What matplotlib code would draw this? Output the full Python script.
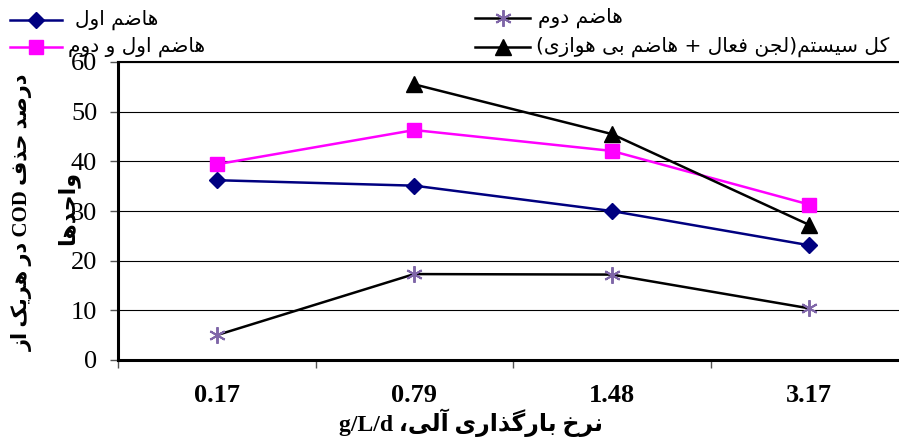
import matplotlib
matplotlib.use("Agg")
import matplotlib.pyplot as plt
from matplotlib.lines import Line2D

# data
loading_rates = ["0.17", "0.79", "1.48", "3.17"]
digester_1 = [36.2, 35.1, 30.0, 23.1]
digester_2 = [5.0, 17.3, 17.2, 10.4]
digester_1_2 = [39.4, 46.3, 42.1, 31.3]
whole_system = [None, 55.5, 45.5, 27.2]

# arabic presentation forms: isolated, final, initial, medial
FORMS = {
    "ا": ("\ufe8d", "\ufe8e"),
    "آ": ("\ufe81", "\ufe82"),
    "د": ("\ufea9", "\ufeaa"),
    "ذ": ("\ufeab", "\ufeac"),
    "ر": ("\ufead", "\ufeae"),
    "ز": ("\ufeaf", "\ufeb0"),
    "و": ("\ufeed", "\ufeee"),
    "ب": ("\ufe8f", "\ufe90", "\ufe91", "\ufe92"),
    "ت": ("\ufe95", "\ufe96", "\ufe97", "\ufe98"),
    "ج": ("\ufe9d", "\ufe9e", "\ufe9f", "\ufea0"),
    "ح": ("\ufea1", "\ufea2", "\ufea3", "\ufea4"),
    "خ": ("\ufea5", "\ufea6", "\ufea7", "\ufea8"),
    "س": ("\ufeb1", "\ufeb2", "\ufeb3", "\ufeb4"),
    "ص": ("\ufeb9", "\ufeba", "\ufebb", "\ufebc"),
    "ض": ("\ufebd", "\ufebe", "\ufebf", "\ufec0"),
    "ع": ("\ufec9", "\ufeca", "\ufecb", "\ufecc"),
    "ف": ("\ufed1", "\ufed2", "\ufed3", "\ufed4"),
    "ل": ("\ufedd", "\ufede", "\ufedf", "\ufee0"),
    "م": ("\ufee1", "\ufee2", "\ufee3", "\ufee4"),
    "ن": ("\ufee5", "\ufee6", "\ufee7", "\ufee8"),
    "ه": ("\ufee9", "\ufeea", "\ufeeb", "\ufeec"),
    "ی": ("\ufbfc", "\ufbfd", "\ufbfe", "\ufbff"),
    "ک": ("\ufb8e", "\ufb8f", "\ufb90", "\ufb91"),
    "گ": ("\ufb92", "\ufb93", "\ufb94", "\ufb95"),
}
LAM_ALEF = {"ا": ("\ufefb", "\ufefc"), "آ": ("\ufef5", "\ufef6")}
MIRROR = {"(": ")", ")": "("}


def shape(text):
    out = []
    i = 0
    n = len(text)
    while i < n:
        c = text[i]
        if c not in FORMS:
            out.append(c)
            i += 1
            continue
        prev = text[i - 1] if i > 0 else ""
        joins_prev = prev in FORMS and len(FORMS[prev]) == 4
        if c == "ل" and i + 1 < n and text[i + 1] in LAM_ALEF:
            out.append(LAM_ALEF[text[i + 1]][1 if joins_prev else 0])
            i += 2
            continue
        nxt = text[i + 1] if i + 1 < n else ""
        joins_next = nxt in FORMS
        f = FORMS[c]
        if len(f) == 2:
            out.append(f[1] if joins_prev else f[0])
        elif joins_prev and joins_next:
            out.append(f[3])
        elif joins_prev:
            out.append(f[1])
        elif joins_next:
            out.append(f[2])
        else:
            out.append(f[0])
        i += 1
    return "".join(out)


def rtl(text):
    return "".join(MIRROR.get(c, c) for c in reversed(shape(text)))


W, H = 899, 441
fig = plt.figure(figsize=(W / 100, H / 100), dpi=100)
ax = fig.add_axes([118 / W, 81 / H, 790 / W, 298 / H])

NAVY, MAGENTA, LILAC = "#000080", "#FF00FF", "#7F66A8"
ASTER = (6, 2, 0)

x = list(range(len(loading_rates)))
ax.plot(x, digester_1, color=NAVY, lw=1.8, marker="D", ms=8.5, zorder=3)
ax.plot(x, digester_2, color="black", lw=1.8, marker=ASTER, ms=12,
        mec=LILAC, mew=1.4, zorder=3)
ax.plot(x, digester_1_2, color=MAGENTA, lw=1.8, marker="s", ms=10, zorder=3)
ax.plot(x[1:], whole_system[1:], color="black", lw=1.8, marker="^", ms=11, zorder=4)

ax.set_xlim(-0.5, 3.5)
ax.set_ylim(0, 60)
ax.set_yticks(range(0, 61, 10))
ax.yaxis.grid(True, color="black", lw=0.8)
ax.set_axisbelow(True)

ax.set_xticks([-0.5, 0.5, 1.5, 2.5, 3.5])
ax.set_xticklabels([])
ax.set_xticks(x, minor=True)
ax.set_xticklabels(loading_rates, minor=True, fontfamily="Liberation Serif",
                   fontweight="bold", fontsize=19)
ax.tick_params(axis="x", which="major", length=6, width=1, color="#555555", direction="out")
ax.tick_params(axis="x", which="minor", length=0, pad=17)
ax.tick_params(axis="y", length=6, width=1, color="#555555", pad=9)
for lab in ax.get_yticklabels():
    lab.set_fontfamily("Liberation Serif")
    lab.set_fontsize(19)

for side in ["left", "bottom"]:
    ax.spines[side].set_linewidth(2.2)
ax.spines["top"].set_linewidth(1.5)
ax.spines["right"].set_visible(False)


def px(xp, yp):
    return xp / W, 1 - yp / H


# legend drawn by hand on the figure: line span, y, text start, line colour, marker
entries = [
    (10, 62, 20, 75, NAVY, dict(marker="D", ms=8.5, mfc=NAVY, mec=NAVY), "هاضم اول"),
    (10, 62, 47, 68, MAGENTA, dict(marker="s", ms=10, mfc=MAGENTA, mec=MAGENTA),
     "هاضم اول و دوم"),
    (475, 530, 18, 538, "black", dict(marker=ASTER, ms=12, mec=LILAC, mew=1.4), "هاضم دوم"),
    (475, 530, 47, 536, "black", dict(marker="^", ms=11, mfc="black", mec="black"),
     "کل سیستم(لجن فعال + هاضم بی هوازی)"),
]
for x0, x1, yy, tx, lc, mk, label in entries:
    xa, ya = px(x0, yy)
    xb, _ = px(x1, yy)
    fig.add_artist(Line2D([xa, xb], [ya, ya], lw=1.8, color=lc, transform=fig.transFigure))
    fig.add_artist(Line2D([(xa + xb) / 2], [ya], lw=0, transform=fig.transFigure, **mk))
    fig.text(*px(tx, yy), rtl(label), fontfamily="DejaVu Sans", fontsize=14.5,
             ha="left", va="center")

# axis titles
ylab1 = rtl("در هریک از") + " COD " + rtl("درصد حذف")
fig.text(*px(22, 212), ylab1, rotation=90, ha="center", va="center",
         fontfamily=["Liberation Serif", "DejaVu Sans"], fontweight="bold", fontsize=15)
fig.text(*px(68, 208), rtl("واحدها"), rotation=90, ha="center", va="center",
         fontfamily="DejaVu Sans", fontweight="bold", fontsize=16)

xlab = "g/L/d " + rtl("نرخ بارگذاری آلی،")
fig.text(*px(471, 423), xlab, ha="center", va="center",
         fontfamily=["Liberation Serif", "DejaVu Sans"], fontweight="bold", fontsize=17)

fig.savefig("out.png", dpi=100)
